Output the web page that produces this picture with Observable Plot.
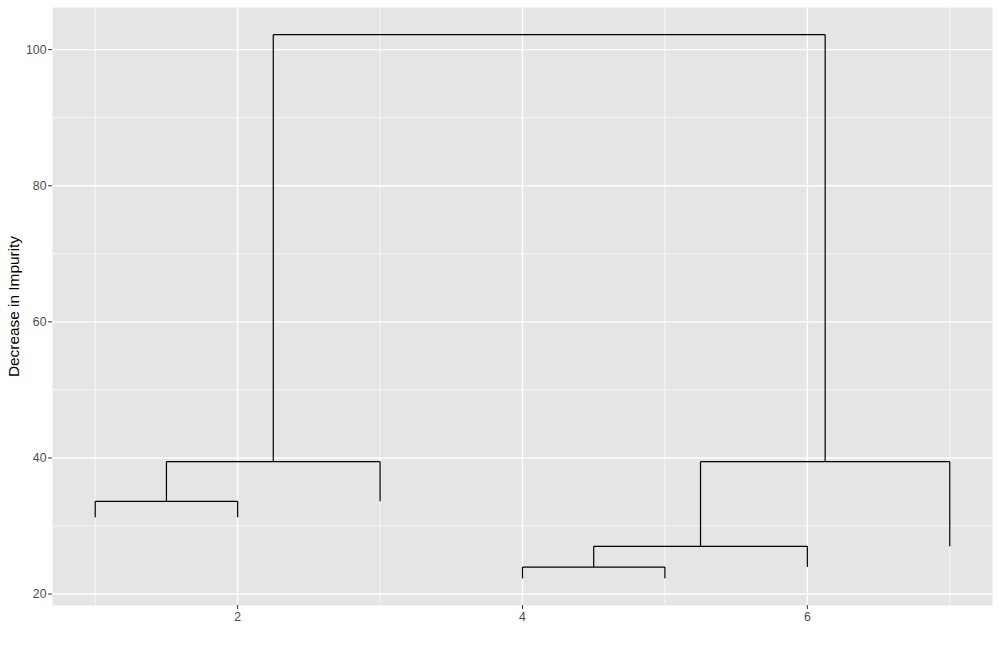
<!DOCTYPE html>
<html>
<head>
<meta charset="utf-8">
<script src="https://cdn.jsdelivr.net/npm/d3@7"></script>
<script src="https://cdn.jsdelivr.net/npm/@observablehq/plot@0.6"></script>
<style>
  html, body { margin: 0; padding: 0; background: #fff; }
  #chart { width: 1000px; height: 650px; }
  svg { font-family: "Liberation Sans", Arial, Helvetica, sans-serif; }
</style>
</head>
<body>
<div id="chart"></div>
<script>
// Dendrogram segments (start x, start y, end x, end y)
const segX    = [1, 2, 1, 1.5, 3, 1.5, 2.25, 4, 5, 4, 4.5, 6, 4.5, 5.25, 7, 5.25, 6.125, 2.25];
const segY    = [31.28, 31.28, 33.63, 33.63, 33.63, 39.46, 39.46, 22.31, 22.31, 23.97, 23.97, 23.97, 27.01, 27.01, 27.01, 39.46, 39.46, 102.2];
const segXend = [1, 2, 2, 1.5, 3, 3, 2.25, 4, 5, 5, 4.5, 6, 6, 5.25, 7, 7, 6.125, 6.125];
const segYend = [33.63, 33.63, 33.63, 39.46, 39.46, 39.46, 102.2, 23.97, 23.97, 23.97, 27.01, 27.01, 27.01, 39.46, 39.46, 39.46, 102.2, 102.2];

const xMajor = [2, 4, 6];
const xMinor = [1, 3, 5, 7];
const yMajor = [20, 40, 60, 80, 100];
const yMinor = [30, 50, 70, 90];
const yTitle = "Decrease in Impurity";

const segs = segX.map((x, i) => ({x1: x, y1: segY[i], x2: segXend[i], y2: segYend[i]}));

const chart = Plot.plot({
  width: 1000,
  height: 650,
  marginLeft: 52,
  marginRight: 8,
  marginTop: 7,
  marginBottom: 45,
  x: {domain: [0.7, 7.3]},
  y: {domain: [18.32, 106.19]},
  style: {fontFamily: '"Liberation Sans", Arial, Helvetica, sans-serif', background: "#fff"},
  marks: [
    Plot.frame({fill: "#E5E5E5", stroke: null}),
    Plot.gridX(xMinor, {stroke: "#fff", strokeOpacity: 1, strokeWidth: 0.7}),
    Plot.gridY(yMinor, {stroke: "#fff", strokeOpacity: 1, strokeWidth: 0.7}),
    Plot.gridX(xMajor, {stroke: "#fff", strokeOpacity: 1, strokeWidth: 1.4}),
    Plot.gridY(yMajor, {stroke: "#fff", strokeOpacity: 1, strokeWidth: 1.4}),
    Plot.link(segs, {x1: "x1", y1: "y1", x2: "x2", y2: "y2", stroke: "#000", strokeWidth: 1.2, strokeLinecap: "butt"}),
    Plot.axisX(xMajor, {tickSize: 4, tickPadding: 3, fontSize: 12.3, color: "#4D4D4D", stroke: "#333", label: null, tickFormat: d3.format("d")}),
    Plot.axisY(yMajor, {tickSize: 4, tickPadding: 2, fontSize: 12.3, color: "#4D4D4D", stroke: "#333", label: null, tickFormat: d3.format("d")}),
    Plot.text([yTitle], {frameAnchor: "left", dx: -38, rotate: -90, textAnchor: "middle", fontSize: 15.4, fill: "#000", text: d => d})
  ]
});
document.getElementById("chart").appendChild(chart);
</script>
</body>
</html>
